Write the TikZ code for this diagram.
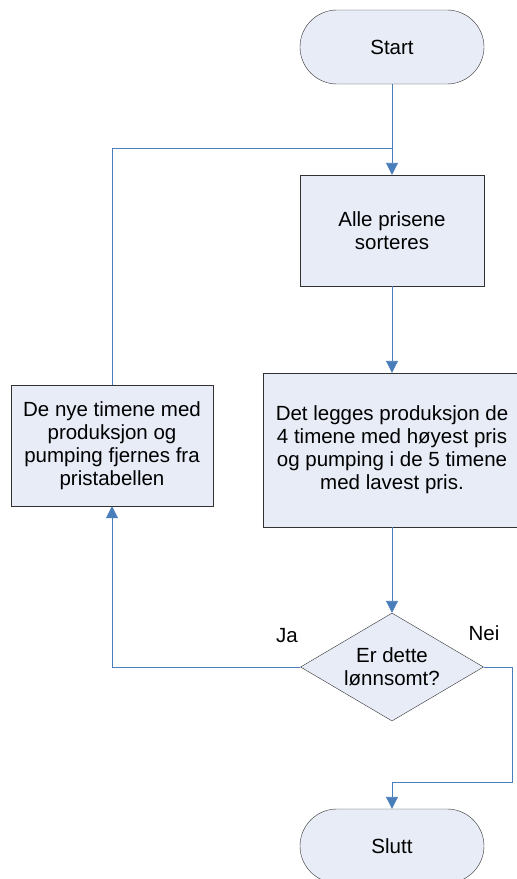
\documentclass[tikz,border=0pt]{standalone}
\usepackage{fontspec}
\setmainfont{Liberation Sans}
\usetikzlibrary{shapes.geometric,arrows.meta}

\definecolor{boxfill}{RGB}{231,236,247}
\definecolor{linkblue}{RGB}{74,126,187}
\definecolor{edgegray}{RGB}{50,50,50}

\tikzset{
  terminal/.style={draw=edgegray, fill=boxfill, rectangle, rounded corners=37pt,
    minimum width=184pt, minimum height=74pt, font=\fontsize{20.5}{23}\selectfont},
  process/.style={draw=edgegray, fill=boxfill, rectangle, align=center,
    font=\fontsize{20.5}{23}\selectfont},
  decision/.style={draw=edgegray, fill=boxfill, diamond, aspect=1.69, inner sep=0pt, align=center,
    minimum width=183pt, minimum height=108pt, font=\fontsize{20.5}{23}\selectfont},
  flow/.style={draw=linkblue, line width=0.9pt, -{Triangle[width=12pt,length=12pt]}},
  link/.style={draw=linkblue, line width=0.9pt},
  answer/.style={font=\fontsize{20.5}{23}\selectfont}
}

\begin{document}
\begin{tikzpicture}[x=1pt, y=-1pt]
            \useasboundingbox (0, 0) rectangle (517, 879);
            \node[terminal] (start) at (392, 47) {Start};
            \node[process, minimum width=184pt, minimum height=111pt] (sort) at (392, 230.5) {Alle prisene\\sorteres};
            \node[process, minimum width=258pt, minimum height=154pt] (plan) at (392, 450)
                {Det legges produksjon de\\4 timene med høyest pris\\og pumping i de 5 timene\\med lavest pris.};
            \node[decision] (check) at (392, 667) {Er dette\\lønnsomt?};
            \node[process, minimum width=202pt, minimum height=121pt] (remove) at (112, 445.5)
                {De nye timene med\\produksjon og\\pumping fjernes fra\\pristabellen};
            \node[terminal] (stop) at (392, 846) {Slutt};
            \node[answer] (ja) at (287, 636) {Ja};
            \node[answer] (nei) at (484, 633) {Nei};
            \coordinate (merge) at (392, 148);
            \coordinate (bend) at (512, 782);
            \draw[flow] (start) -- (sort);
            \draw[link] (remove.north) |- (merge);
            \draw[flow] (sort) -- (plan);
            \draw[flow] (plan) -- (check);
            \draw[flow] (check.west) -| (remove.south);
            \draw[flow] (check.east) -| (bend) -| (stop.north);
        \end{tikzpicture}
\end{document}
